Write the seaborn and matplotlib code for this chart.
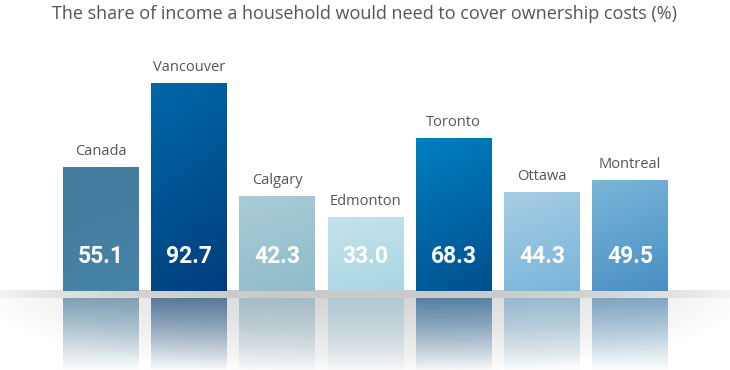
import numpy as np
import pandas as pd
import matplotlib
matplotlib.use("Agg")
import matplotlib.pyplot as plt
from matplotlib.colors import to_rgb
import seaborn as sns

cities = ["Canada", "Vancouver", "Calgary", "Edmonton", "Toronto", "Ottawa", "Montreal"]
shares = [55.1, 92.7, 42.3, 33.0, 68.3, 44.3, 49.5]
top_colors = ["#427b9b", "#0068a9", "#a9ccd6", "#c6e2eb", "#0080bf", "#a7cde4", "#7ab6d9"]
bottom_colors = ["#4684a8", "#003d7c", "#8fbccb", "#a9d6e4", "#004f8e", "#78b5da", "#4a8ec2"]
title = "The share of income a household would need to cover ownership costs (%)"

df = pd.DataFrame({"city": cities, "share": shares})

sns.set_theme(style="white")
plt.rcParams["font.family"] = ["Open Sans", "DejaVu Sans"]

fig = plt.figure(figsize=(7.3, 3.7), dpi=100)
ax = fig.add_axes([0, 0, 1, 1])

bar_w = 0.86
sns.barplot(data=df, x="city", y="share", width=bar_w, color="white", ax=ax, zorder=3)

x0, x1 = -1.1416, 7.13
y0, y1 = -35.2, 129.6
floor = -3.3  # gap between bar foot and reflection

# floor: gray shelf plus soft elliptical shadow
nx, ny = 400, 120
xs = np.linspace(x0, x1, nx)
ys = np.linspace(0, y0, ny)
X, Y = np.meshgrid(xs, ys)
dx = (X - 3.0) / 4.4
dy = Y / 38.0
r = np.sqrt(dx ** 2 + dy ** 2)
shade = 0.19 * np.clip(1 - r, 0, 1) ** 0.9
band = (Y > floor) * 0.21 * np.clip(1 - (np.abs(X - 3.0) / 4.5) ** 3, 0.05, 1)
gray = 1 - np.maximum(shade, band)
ax.imshow(np.dstack([gray, gray, gray]), extent=[x0, x1, y0, 0], aspect="auto",
          origin="upper", zorder=1, interpolation="bilinear")

for i, patch in enumerate(ax.patches):
    c_top = np.array(to_rgb(top_colors[i]))
    c_bot = np.array(to_rgb(bottom_colors[i]))
    u = np.linspace(0, 1, 20)
    v = np.linspace(0, 1, 80)
    U, V = np.meshgrid(u, v)
    t = np.clip(0.8 * V + 0.2 * U, 0, 1)[..., None]
    img = c_top * (1 - t) + c_bot * t
    bx = patch.get_x()
    bw = patch.get_width()
    h = patch.get_height()
    im = ax.imshow(img, extent=[bx, bx + bw, 0, h], aspect="auto", origin="upper",
                   zorder=4, interpolation="bilinear")
    im.set_clip_path(patch)
    patch.set_edgecolor("none")

    # reflection under the shelf
    refl = 0.6 * c_bot + 0.4 * np.array([0.70, 0.72, 0.74])
    a = np.linspace(0.9, 0.03, 80)
    rimg = np.zeros((80, 2, 4))
    rimg[..., :3] = refl
    rimg[..., 3] = a[:, None]
    ax.imshow(rimg, extent=[bx, bx + bw, y0, floor], aspect="auto", origin="upper",
              zorder=2, interpolation="bilinear")

    cx = bx + bw / 2
    ax.text(cx, h + 5.3, cities[i], ha="center", va="baseline", fontsize=10.5,
            color="#555555", zorder=5)
    ax.text(cx, 12.5, f"{shares[i]:.1f}", ha="center", va="baseline", fontsize=16.5,
            fontweight="bold", color="white", family=["Roboto", "DejaVu Sans"], zorder=5)

ax.set_xlim(x0, x1)
ax.set_ylim(y0, y1)
ax.axis("off")

fig.text(0.5, 1 - 19 / 370, title, ha="center", va="baseline", fontsize=13,
         color="#555555")

fig.savefig("out.png", dpi=100)
